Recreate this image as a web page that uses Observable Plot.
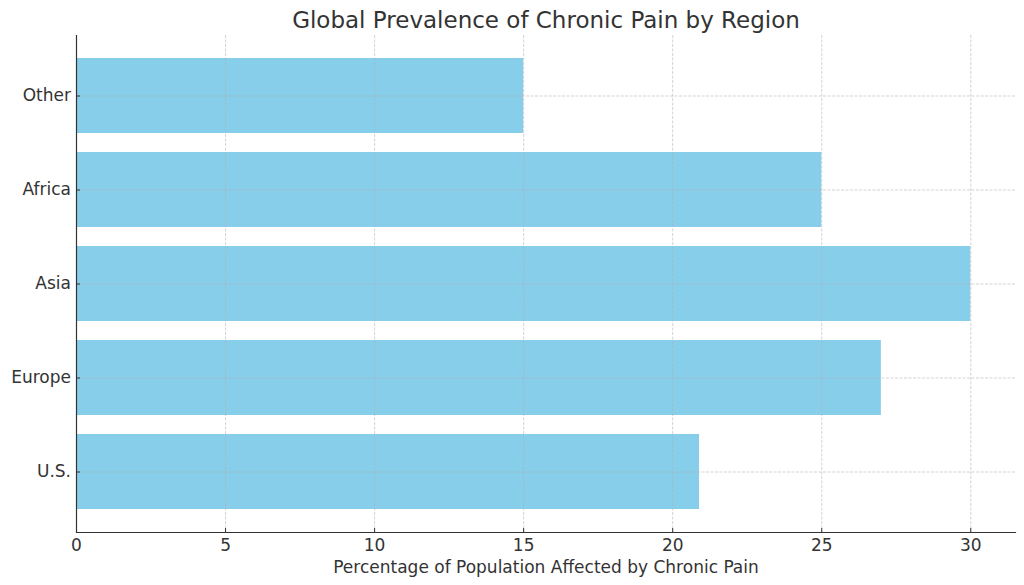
<!DOCTYPE html>
<html>
<head>
<meta charset="utf-8">
<script src="https://cdn.jsdelivr.net/npm/d3@7"></script>
<script src="https://cdn.jsdelivr.net/npm/@observablehq/plot@0.6"></script>
<style>
  html, body { margin: 0; padding: 0; background: #fff; }
  #chart svg { display: block; }
</style>
</head>
<body>
<div id="chart"></div>
<script>
const regions = ["U.S.", "Europe", "Asia", "Africa", "Other"];
const values = [20.9, 27, 30, 25, 15];
const xTicks = [0, 5, 10, 15, 20, 25, 30];
const title = "Global Prevalence of Chronic Pain by Region";
const xLabel = "Percentage of Population Affected by Chronic Pain";

const data = regions.map((r, i) => ({region: r, value: values[i]}));
const font = "DejaVu Sans, sans-serif";

const plot = Plot.plot({
  width: 1024,
  height: 585,
  marginLeft: 76,
  marginRight: 9,
  marginTop: 35,
  marginBottom: 53,
  style: {fontFamily: font, fontSize: "17px", color: "#333", background: "#fff"},
  x: {domain: [0, 31.5], ticks: xTicks},
  y: {domain: regions.slice().reverse(), paddingInner: 0.2, paddingOuter: 0.24, align: 0.5},
  marks: [
    Plot.barX(data, {x: "value", y: "region", fill: "#87CEEB"}),
    Plot.gridX(xTicks, {stroke: "#b0b0b0", strokeOpacity: 0.7, strokeWidth: 0.8, strokeDasharray: "3,1.5"}),
    Plot.gridY(regions, {stroke: "#b0b0b0", strokeOpacity: 0.7, strokeWidth: 0.8, strokeDasharray: "3,1.5"}),
    Plot.axisX(xTicks, {tickSize: -4, tickPadding: 10, label: null, fontSize: 17, stroke: "#333", fill: "#333"}),
    Plot.axisY({tickSize: -4, tickPadding: 9.5, label: null, fontSize: 17, stroke: "#333", fill: "#333"}),
    Plot.ruleX([0], {stroke: "#333", strokeWidth: 1.2}),
    Plot.frame({anchor: "bottom", stroke: "#333", strokeWidth: 1.2}),
    Plot.text([xLabel], {frameAnchor: "bottom", lineAnchor: "top", dy: 28, fontSize: 17, fill: "#333"}),
    Plot.text([title], {frameAnchor: "top", lineAnchor: "top", dy: -24, fontSize: 23, fill: "#333"})
  ]
});
document.getElementById("chart").appendChild(plot);
</script>
</body>
</html>
